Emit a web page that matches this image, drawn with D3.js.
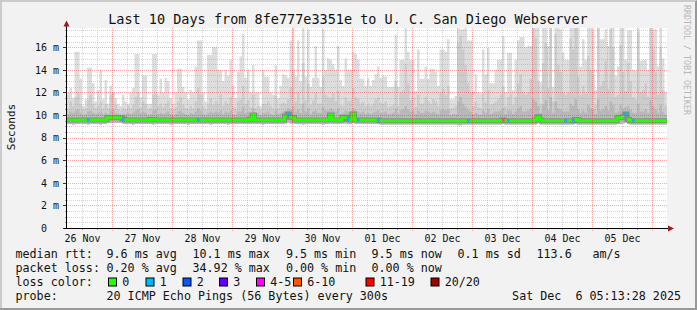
<!DOCTYPE html>
<html>
<head>
<meta charset="utf-8">
<script src="https://cdn.jsdelivr.net/npm/d3@7"></script>
<style>
body { margin: 0; background: #f2f2f2; }
svg { display: block; }
text { font-family: "DejaVu Sans Mono", monospace; white-space: pre; }
</style>
</head>
<body>
<svg></svg>
<script>

var width = 697, height = 310;

// 10 days of hourly consolidated smokeping data (ms)
var start = new Date(2025, 10, 26, 6), end = new Date(2025, 11, 6, 6);

var smokeMax = [
 12.0,12.4,11.5,15.6,15.6,13.2,10.8,11.4,14.2,14.2,
 12.8,11.2,12.2,14.0,11.4,13.1,11.0,12.6,12.0,11.5,
 11.0,10.8,11.8,11.2,11.0,12.0,12.4,15.4,15.4,11.6,
 13.5,13.5,11.0,11.0,15.4,15.4,11.8,13.2,12.0,13.3,
 13.0,11.5,11.0,12.0,14.1,14.1,12.5,12.0,11.4,12.2,
 12.0,14.3,16.6,16.6,12.0,11.2,15.3,15.3,16.0,16.0,
 14.0,14.0,13.0,14.0,13.5,14.9,12.6,11.5,13.8,15.2,
 17.2,13.3,14.0,12.0,14.4,12.0,12.0,10.8,14.0,13.4,
 13.4,12.0,11.8,14.4,11.5,12.6,13.6,13.5,13.3,16.6,
 17.9,13.4,16.6,13.0,17.8,13.4,17.6,12.5,13.3,16.1,
 13.3,12.5,17.6,14.0,15.0,14.9,14.5,14.0,16.1,13.1,
 12.6,15.0,14.0,14.0,15.6,15.4,14.9,13.2,13.2,12.6,
 13.3,12.6,13.1,13.6,14.3,13.3,13.5,13.4,12.5,12.5,
 12.5,17.1,12.5,14.9,14.9,17.7,15.6,14.9,14.9,12.1,
 15.8,13.2,13.2,14.3,13.2,14.1,14.1,13.8,12.6,15.8,
 15.8,15.6,16.7,11.4,11.4,11.7,17.7,17.6,17.6,17.7,
 16.6,16.6,12.1,13.6,12.0,11.9,15.8,13.6,15.9,12.8,
 12.8,14.0,14.9,14.9,17.0,12.0,15.5,15.5,12.2,14.9,
 16.6,16.9,16.9,16.0,16.1,16.1,17.9,17.9,17.9,12.9,
 17.9,17.9,16.1,17.9,12.5,17.9,17.9,17.6,15.5,14.9,
 14.9,17.9,17.8,17.9,17.9,14.3,16.7,14.9,17.9,17.9,
 17.6,12.2,17.9,16.7,16.7,17.6,16.1,17.9,17.9,13.5,
 14.3,17.9,17.9,14.9,17.5,17.5,14.0,13.9,17.9,14.8,
 14.9,14.9,14.0,17.9,17.6,17.6,14.3,17.9,15.0,12.0
];

var smokeMid = [
 10.6,11.2,10.8,11.6,12.0,11.0,10.5,10.6,11.4,11.8,
 11.0,10.6,10.8,11.2,10.6,11.0,10.6,11.8,11.9,10.9,
 10.5,10.4,10.6,10.5,10.8,10.6,10.9,11.6,12.0,10.7,
 11.2,11.0,10.5,10.6,11.8,11.9,10.8,11.0,10.7,11.0,
 11.3,10.6,10.5,10.7,11.2,11.6,10.9,10.6,10.5,10.8,
 10.6,11.2,12.4,11.8,10.8,10.5,11.0,11.5,10.9,11.2,
 11.0,11.8,10.8,11.2,11.0,11.6,10.8,10.6,11.2,11.4,
 12.6,11.0,11.3,10.7,11.8,10.6,10.8,10.5,11.0,11.0,
 11.2,10.8,10.6,11.7,10.6,11.0,11.1,11.0,11.4,12.5,
 13.8,11.2,12.0,11.0,14.6,11.3,12.8,10.9,11.3,12.0,
 11.0,11.0,13.4,11.8,11.6,11.5,11.9,11.2,12.2,10.9,
 10.8,11.6,11.2,11.3,12.4,11.6,11.4,11.0,11.2,10.8,
 11.0,10.8,11.0,11.4,11.6,11.1,11.0,11.2,10.7,10.8,
 10.9,13.0,10.8,12.0,12.2,14.5,12.8,11.3,11.6,10.7,
 11.8,11.0,11.0,11.6,11.2,11.0,11.4,11.2,10.8,12.0,
 12.3,11.8,12.6,10.6,10.6,10.8,16.4,17.0,15.8,14.4,
 12.8,12.0,10.8,11.2,10.7,10.6,11.9,11.1,12.2,10.9,
 11.0,11.2,11.4,11.8,12.5,10.8,11.6,11.9,10.9,11.6,
 12.8,13.6,12.0,11.8,12.0,13.2,17.9,16.8,13.0,11.0,
 14.6,16.4,12.4,17.9,11.2,17.2,14.4,13.8,12.0,11.8,
 12.0,16.8,15.8,17.9,13.4,11.8,12.6,11.9,15.2,14.0,
 13.6,10.9,17.9,12.6,13.0,14.8,12.3,17.6,16.0,11.6,
 11.8,16.2,13.8,12.1,14.6,13.0,11.6,11.4,17.4,12.0,
 12.2,12.8,11.6,17.9,15.8,13.8,11.8,16.0,12.2,10.8
];

var smokeIn = [
 10.1,10.3,10.2,10.4,10.5,10.2,10.0,10.1,10.3,10.4,
 10.2,10.1,10.2,10.3,10.1,10.2,10.1,10.4,10.5,10.2,
 10.1,10.0,10.1,10.1,10.2,10.1,10.2,10.4,10.5,10.2,
 10.3,10.2,10.0,10.1,10.4,10.5,10.1,10.2,10.1,10.2,
 10.3,10.1,10.0,10.1,10.3,10.4,10.2,10.1,10.0,10.2,
 10.1,10.3,10.6,10.4,10.1,10.0,10.2,10.3,10.2,10.3,
 10.2,10.4,10.1,10.3,10.2,10.4,10.1,10.0,10.3,10.3,
 10.7,10.2,10.3,10.1,10.6,10.1,10.2,10.0,10.2,10.2,
 10.3,10.1,10.0,10.4,10.1,10.2,10.3,10.4,10.6,10.5,
 10.8,10.3,10.5,10.2,11.0,10.3,10.6,10.1,10.3,10.4,
 10.2,10.2,10.7,10.4,10.4,10.6,10.5,10.3,10.6,10.1,
 10.2,10.4,10.3,10.3,10.6,10.4,10.3,10.2,10.3,10.1,
 10.2,10.1,10.2,10.3,10.4,10.2,10.2,10.3,10.1,10.1,
 10.2,10.6,10.1,10.4,10.5,10.8,10.5,10.3,10.4,10.1,
 10.4,10.2,10.2,10.4,10.3,10.2,10.3,10.2,10.1,10.4,
 10.5,10.4,10.5,10.0,10.1,10.1,11.2,11.6,11.0,10.7,
 10.5,10.3,10.1,10.2,10.1,10.0,10.4,10.2,10.5,10.1,
 10.2,10.3,10.3,10.4,10.6,10.1,10.4,10.4,10.1,10.3,
 10.6,10.8,10.3,10.3,10.4,10.6,11.4,11.2,10.8,10.2,
 10.9,11.3,10.4,11.6,10.2,11.2,10.6,10.5,10.3,10.3,
 10.3,11.0,10.8,11.4,10.5,10.2,10.4,10.2,10.9,10.6,
 10.5,10.1,11.4,10.4,10.5,10.8,10.4,11.2,10.9,10.2,
 10.3,10.9,10.6,10.7,10.8,10.5,10.2,10.2,11.0,10.3,
 10.3,10.5,10.2,11.3,10.8,10.5,10.2,10.9,10.3,10.0
];

var pingMin = [
 9.2,9.2,9.15,9.2,9.2,9.25,9.2,9.2,9.15,9.2,
 9.2,9.2,9.2,9.15,9.2,9.2,9.3,9.3,9.3,9.3,
 9.3,9.3,9.25,9.2,9.2,9.2,9.15,9.2,9.2,9.2,
 9.2,9.2,9.2,9.2,9.15,9.2,9.2,9.2,9.2,9.2,
 9.2,9.15,9.2,9.2,9.2,9.2,9.2,9.2,9.15,9.2,
 9.2,9.2,9.2,9.2,9.2,9.2,9.2,9.15,9.2,9.2,
 9.2,9.2,9.2,9.2,9.15,9.2,9.2,9.2,9.2,9.2,
 9.2,9.2,9.2,9.2,9.25,9.2,9.2,9.2,9.15,9.2,
 9.2,9.2,9.2,9.2,9.2,9.2,9.2,9.25,9.3,9.25,
 9.25,9.2,9.2,9.2,9.15,9.2,9.2,9.2,9.2,9.2,
 9.2,9.2,9.15,9.2,9.2,9.25,9.2,9.2,9.2,9.2,
 9.25,9.25,9.2,9.2,9.3,9.2,9.2,9.2,9.2,9.2,
 9.2,9.2,9.2,9.2,9.2,9.15,9.15,9.15,9.15,9.15,
 9.15,9.15,9.15,9.15,9.15,9.15,9.15,9.15,9.15,9.15,
 9.15,9.15,9.15,9.15,9.15,9.15,9.15,9.15,9.15,9.15,
 9.15,9.15,9.15,9.15,9.15,9.15,9.1,9.1,9.15,9.15,
 9.15,9.15,9.15,9.15,9.15,9.15,9.15,9.15,9.15,9.15,
 9.15,9.15,9.15,9.15,9.2,9.15,9.15,9.15,9.15,9.15,
 9.15,9.15,9.15,9.15,9.15,9.15,9.15,9.15,9.25,9.15,
 9.15,9.15,9.15,9.15,9.15,9.15,9.15,9.15,9.15,9.15,
 9.15,9.15,9.15,9.2,9.15,9.15,9.15,9.15,9.15,9.15,
 9.15,9.15,9.15,9.15,9.15,9.15,9.15,9.15,9.15,9.15,
 9.2,9.2,9.25,9.3,9.2,9.15,9.15,9.15,9.15,9.15,
 9.15,9.15,9.15,9.15,9.15,9.15,9.15,9.15,9.15,9.15
];

var median = [
 9.55,9.55,9.55,9.55,9.55,9.55,9.55,9.55,9.55,9.55,
 9.55,9.55,9.55,9.55,9.55,9.55,9.75,9.75,9.75,9.75,
 9.75,9.75,9.65,9.55,9.55,9.55,9.55,9.55,9.55,9.55,
 9.55,9.55,9.55,9.6,9.6,9.55,9.55,9.55,9.55,9.55,
 9.55,9.55,9.55,9.55,9.55,9.55,9.55,9.55,9.55,9.55,
 9.55,9.55,9.55,9.55,9.55,9.55,9.55,9.55,9.55,9.55,
 9.55,9.55,9.55,9.55,9.55,9.55,9.55,9.55,9.55,9.55,
 9.55,9.55,9.55,9.6,10.0,9.55,9.55,9.55,9.55,9.55,
 9.55,9.55,9.55,9.55,9.55,9.55,9.55,9.9,10.1,9.8,
 9.75,9.55,9.55,9.55,9.55,9.55,9.55,9.55,9.55,9.55,
 9.55,9.55,9.55,9.55,9.55,10.0,9.55,9.55,9.55,9.55,
 9.8,9.8,9.6,9.55,10.1,9.55,9.55,9.55,9.55,9.55,
 9.55,9.55,9.55,9.55,9.55,9.5,9.5,9.5,9.5,9.5,
 9.5,9.5,9.5,9.5,9.5,9.5,9.5,9.5,9.5,9.5,
 9.5,9.5,9.5,9.5,9.5,9.5,9.5,9.5,9.5,9.5,
 9.5,9.5,9.5,9.5,9.5,9.5,9.5,9.5,9.5,9.5,
 9.5,9.5,9.5,9.5,9.5,9.5,9.5,9.5,9.5,9.5,
 9.5,9.5,9.5,9.5,9.55,9.5,9.5,9.5,9.5,9.5,
 9.5,9.5,9.5,9.5,9.5,9.5,9.5,9.55,9.85,9.55,
 9.5,9.5,9.5,9.5,9.5,9.5,9.5,9.5,9.5,9.5,
 9.5,9.5,9.5,9.6,9.55,9.5,9.5,9.5,9.5,9.5,
 9.5,9.5,9.5,9.5,9.5,9.5,9.5,9.5,9.5,9.5,
 9.75,9.75,9.85,10.1,9.6,9.5,9.5,9.5,9.5,9.5,
 9.5,9.5,9.5,9.5,9.5,9.5,9.5,9.5,9.5,9.5
];

// [hour index, lost pings of 20]
var lossEvents = [[8,1],[22,1],[52,1],[88,1],[112,1],[116,1],[124,1],[160,1],
                  [174,7],[176,1],[199,1],[202,1],[223,1],[226,1]];

var lossLabels = ["0", "1", "2", "3", "4-5", "6-10", "11-19", "20/20"];
var lossMax    = [0, 1, 2, 3, 5, 10, 19, 20];
var lossColors = ["#26ff00", "#00b8ff", "#0059ff", "#5e00ff", "#ff00ff", "#ff5500", "#ff0000", "#a10000"];

var yTicks = [0, 2, 4, 6, 8, 10, 12, 14, 16];

var title = "Last 10 Days from 8fe777e3351e to U. C. San Diego Webserver";
var rttItems  = ["9.6 ms avg", "10.1 ms max", "9.5 ms min", "9.5 ms now", "0.1 ms sd", "113.6", "am/s"];
var lossItems = ["0.20 % avg", "34.92 % max", "0.00 % min", "0.00 % now"];
var probeText = "20 ICMP Echo Pings (56 Bytes) every 300s";
var stamp = "Sat Dec  6 05:13:28 2025";


var svg = d3.select('svg')
    .attr('width', width)
    .attr('height', height);

// background + 3d frame
svg.append("rect").attr("width", width).attr("height", height).attr("fill", "#f2f2f2");
svg.append("path").attr("d", "M0,0H697V2H2V310H0Z").attr("fill", "#cbcbcb");
svg.append("path").attr("d", "M697,0V310H0V308H695V2Z").attr("fill", "#999999");

var x = d3.scaleTime().domain([start, end]).range([67, 667]);
var y = d3.scaleLinear().domain([0, 17.7]).range([228, 28]);

svg.append("rect")
    .attr("x", 67).attr("y", 28)
    .attr("width", 600).attr("height", 200)
    .attr("fill", "white");

svg.append("clipPath").attr("id", "plot")
  .append("rect").attr("x", 67).attr("y", 28).attr("width", 600).attr("height", 200);

var hours = d3.range(smokeMax.length);
function t(i) { return d3.timeHour.offset(start, i); }

function smoke(top) {
    var pts = hours.map(function(i) { return {t: t(i), lo: pingMin[i], hi: top[i]}; });
    var last = hours.length - 1;
    pts.push({t: t(hours.length), lo: pingMin[last], hi: top[last]});
    return d3.area()
        .curve(d3.curveStepAfter)
        .x(function(d) { return x(d.t); })
        .y0(function(d) { return y(d.lo); })
        .y1(function(d) { return y(d.hi); })(pts);
}

var g = svg.append("g").attr("clip-path", "url(#plot)");

g.append("path").attr("d", smoke(smokeMax)).attr("fill", "#dddddd");
g.append("path").attr("d", smoke(smokeMid)).attr("fill", "#cccccc");
g.append("path").attr("d", smoke(smokeIn)).attr("fill", "#b8b8b8");

// median, dark core underneath
var stepLine = d3.line().x(function(d) { return x(d[0]); }).y(function(d) { return y(d[1]); });
var corePts = [];
hours.forEach(function(i) { corePts.push([t(i), median[i]], [t(i + 1), median[i]]); });
g.append("path").attr("d", stepLine(corePts))
    .attr("fill", "none").attr("stroke", "#8a8a8a").attr("stroke-width", 5);

var lossAt = hours.map(function() { return 0; });
lossEvents.forEach(function(e) { lossAt[e[0]] = e[1]; });
function lossClass(n) { return lossMax.findIndex(function(m) { return n <= m; }); }

var runs = [], cur = null;
hours.forEach(function(i) {
    var c = lossClass(lossAt[i]);
    if (!cur || cur.c !== c) { cur = {c: c, pts: []}; runs.push(cur); }
    cur.pts.push([t(i), median[i]], [t(i + 1), median[i]]);
});
runs.forEach(function(r) {
    g.append("path").attr("d", stepLine(r.pts))
        .attr("fill", "none")
        .attr("stroke", lossColors[r.c])
        .attr("stroke-width", 3);
});

// grid on top
var minorX = d3.timeHour.every(6).range(start, end).filter(function(d) { return d.getHours() !== 0 && +d !== +start; });
var majorX = d3.timeDay.range(start, end);
var minorY = d3.range(0.5, 17.7, 0.5).filter(function(v) { return v % 2 !== 0; });
var majorY = yTicks.filter(function(v) { return v > 0; });

var grid = svg.append("g");
grid.selectAll(".vx").data(minorX).enter().append("line")
    .attr("x1", function(d) { return Math.round(x(d)) + 0.5; })
    .attr("x2", function(d) { return Math.round(x(d)) + 0.5; })
    .attr("y1", 28).attr("y2", 228)
    .attr("stroke", "#a0a0a0").attr("stroke-opacity", 0.45).attr("stroke-dasharray", "1,1");
grid.selectAll(".hy").data(minorY).enter().append("line")
    .attr("y1", function(d) { return Math.round(y(d)) + 0.5; })
    .attr("y2", function(d) { return Math.round(y(d)) + 0.5; })
    .attr("x1", 67).attr("x2", 667)
    .attr("stroke", "#a0a0a0").attr("stroke-opacity", 0.45).attr("stroke-dasharray", "1,1");
grid.selectAll(".mx").data(majorX).enter().append("line")
    .attr("x1", function(d) { return Math.round(x(d)) + 0.5; })
    .attr("x2", function(d) { return Math.round(x(d)) + 0.5; })
    .attr("y1", 28).attr("y2", 231)
    .attr("stroke", "#ff0000").attr("stroke-opacity", 0.35).attr("stroke-dasharray", "1,1");
grid.selectAll(".my").data(majorY).enter().append("line")
    .attr("y1", function(d) { return Math.round(y(d)) + 0.5; })
    .attr("y2", function(d) { return Math.round(y(d)) + 0.5; })
    .attr("x1", 64).attr("x2", 667)
    .attr("stroke", "#ff0000").attr("stroke-opacity", 0.35).attr("stroke-dasharray", "1,1");

// axis ticks
svg.selectAll(".tx").data(minorX).enter().append("line")
    .attr("x1", function(d) { return Math.round(x(d)) + 0.5; })
    .attr("x2", function(d) { return Math.round(x(d)) + 0.5; })
    .attr("y1", 228).attr("y2", 230).attr("stroke", "#999");
svg.selectAll(".ty").data(yTicks).enter().append("line")
    .attr("y1", function(d) { return Math.round(y(d)) + 0.5; })
    .attr("y2", function(d) { return Math.round(y(d)) + 0.5; })
    .attr("x1", 63).attr("x2", 67).attr("stroke", "#333");
svg.selectAll(".tyy").data(minorY).enter().append("line")
    .attr("y1", function(d) { return Math.round(y(d)) + 0.5; })
    .attr("y2", function(d) { return Math.round(y(d)) + 0.5; })
    .attr("x1", 65).attr("x2", 67).attr("stroke", "#999");

// axis lines + arrows
svg.append("line").attr("x1", 66.5).attr("x2", 66.5).attr("y1", 229).attr("y2", 24).attr("stroke", "black");
svg.append("line").attr("x1", 64).attr("x2", 669).attr("y1", 228.5).attr("y2", 228.5).attr("stroke", "black");
svg.append("path").attr("d", "M63.5,26.5L66.5,20.5L69.5,26.5Z").attr("fill", "#a01818");
svg.append("path").attr("d", "M668,225.5L674,228.5L668,231.5Z").attr("fill", "#a01818");

// axis labels
var noons = d3.timeHour.range(start, end).filter(function(d) { return d.getHours() === 12; });
var xAxis = svg.append("g")
    .attr("transform", "translate(0,228)")
    .call(d3.axisBottom(x).tickValues(noons).tickFormat(d3.timeFormat("%d %b")).tickSize(0).tickPadding(6.5));
var yAxis = svg.append("g")
    .attr("transform", "translate(67,0)")
    .call(d3.axisLeft(y).tickValues(yTicks).tickFormat(function(d) { return d ? d + " m" : "0  "; }).tickSize(0).tickPadding(8));
[xAxis, yAxis].forEach(function(a) {
    a.select(".domain").remove();
    a.selectAll("text").style("font-family", "DejaVu Sans Mono").style("font-size", "10px").attr("fill", "#111");
});

// title, unit, watermark
svg.append("text").attr("x", 348).attr("y", 23.5)
    .attr("text-anchor", "middle").style("font-size", "13.5px").attr("fill", "#111").text(title);
svg.append("text").attr("transform", "translate(15,127) rotate(-90)")
    .attr("text-anchor", "middle").style("font-size", "11px").attr("fill", "#111").text("Seconds");
svg.append("text").attr("transform", "translate(684,5) rotate(90)")
    .style("font-size", "8.3px").attr("fill", "#b8b8b8").text("RRDTOOL / TOBI OETIKER");

// legend
var lg = svg.append("g").style("font-size", "11.7px").attr("fill", "#111");
var rowY = [258.3, 272, 285.8, 299.6];
var rttX = [107.3, 193.3, 286.7, 372.3, 458.3, 537.3, 593.3];
lg.append("text").attr("x", 15.5).attr("y", rowY[0]).text("median rtt:");
rttItems.forEach(function(s, i) { lg.append("text").attr("x", rttX[i] - 0.8).attr("y", rowY[0]).text(s); });
lg.append("text").attr("x", 15.5).attr("y", rowY[1]).text("packet loss:");
lossItems.forEach(function(s, i) { lg.append("text").attr("x", rttX[i] - 0.8).attr("y", rowY[1]).text(s); });
lg.append("text").attr("x", 15.5).attr("y", rowY[2]).text("loss color:");
var boxX = [108, 145.5, 182.5, 219, 256, 293, 365.5, 430.5];
lossLabels.forEach(function(s, i) {
    lg.append("rect").attr("x", boxX[i] + 0.5).attr("y", 278).attr("width", 8).attr("height", 8)
        .attr("fill", lossColors[i]).attr("stroke", "black");
    lg.append("text").attr("x", boxX[i] + 14.2).attr("y", rowY[2]).text(s);
});
lg.append("text").attr("x", 15.5).attr("y", rowY[3]).text("probe:");
lg.append("text").attr("x", 106.5).attr("y", rowY[3]).text(probeText);
lg.append("text").attr("x", 681).attr("y", rowY[3]).attr("text-anchor", "end").text(stamp);

</script>
</body>
</html>
